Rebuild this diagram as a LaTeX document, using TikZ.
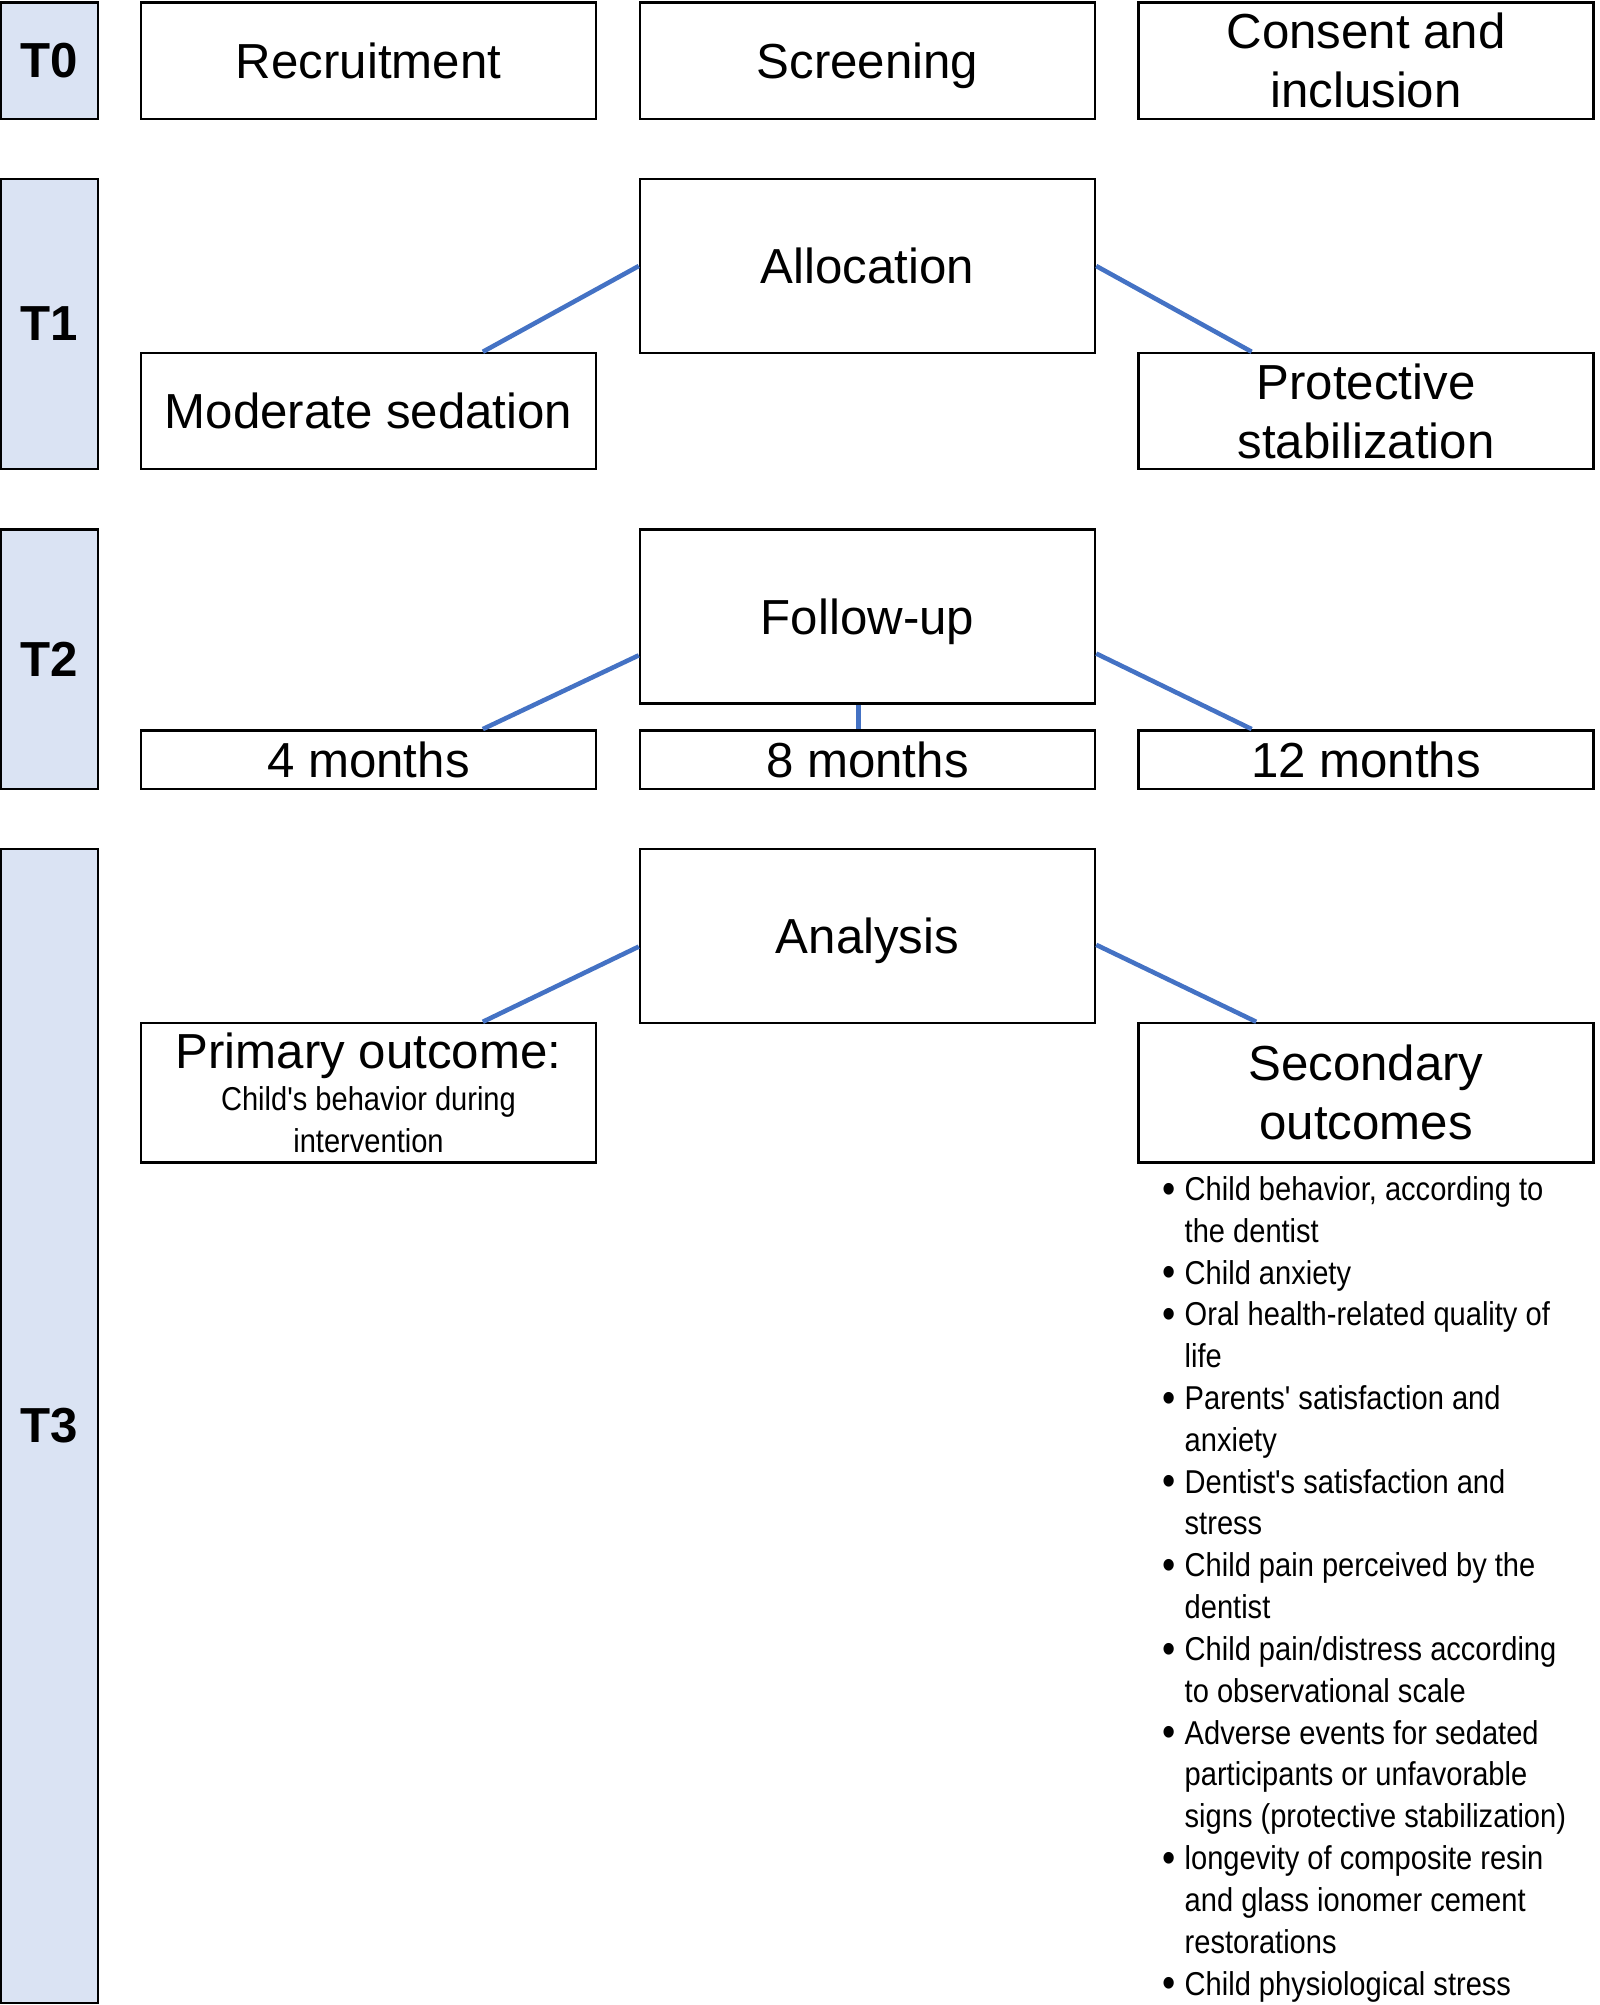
\documentclass[tikz,border=0pt]{standalone}
\usepackage{fontspec}
\setmainfont{Liberation Sans}
\newfontfamily\narrowfont[FakeStretch=0.88]{Liberation Sans}
\usetikzlibrary{calc}
\definecolor{tfill}{RGB}{218,227,243}
\definecolor{linkblue}{RGB}{68,114,196}
\newcommand{\bitem}{\makebox[0.22cm][l]{\raisebox{-0.8pt}{\scalebox{1.3}{\textbullet}}}}
\newcommand{\bpad}{\hspace*{0.22cm}}
\newcommand{\smalltxt}{\narrowfont\fontsize{9.4}{11.9}\selectfont}

\begin{document}
\begin{tikzpicture}[
	box/.style={draw,line width=0.7pt,inner sep=0pt,minimum width=4.55cm,align=center,font=\fontsize{14}{16.8}\selectfont},
	onebox/.style={box,text depth=0pt},
	tbox/.style={draw,line width=0.7pt,fill=tfill,inner sep=0pt,minimum width=0.97cm,font=\fontsize{14}{16.8}\selectfont\bfseries},
	link/.style={draw=linkblue,line width=1.3pt}]
		\useasboundingbox (0,0) rectangle (16,-20.05);
		\node[tbox,minimum height=1.165cm] (t0) at (0.495,-0.6075) {T0};
		\node[onebox,minimum height=1.165cm] (recr) at (3.685,-0.6075) {Recruitment};
		\node[onebox,minimum height=1.165cm] (scr) at (8.675,-0.6075) {Screening};
		\node[box,minimum height=1.165cm] (cons) at (13.66,-0.6075) {Consent and\\inclusion};
		\node[tbox,minimum height=2.90cm] (t1) at (0.495,-3.24) {T1};
		\node[onebox,minimum height=1.74cm] (alloc) at (8.675,-2.66) {Allocation};
		\node[onebox,minimum height=1.16cm] (mod) at (3.685,-4.11) {Moderate sedation};
		\node[box,minimum height=1.16cm] (prot) at (13.66,-4.11) {Protective\\stabilization};
		\node[tbox,minimum height=2.595cm] (t2) at (0.495,-6.5925) {T2};
		\node[onebox,minimum height=1.74cm] (fup) at (8.675,-6.165) {Follow-up};
		\node[onebox,minimum height=0.587cm] (m4) at (3.685,-7.5965) {4 months};
		\node[onebox,minimum height=0.587cm] (m8) at (8.675,-7.5965) {8 months};
		\node[onebox,minimum height=0.587cm] (m12) at (13.66,-7.5965) {12 months};
		\node[tbox,minimum height=11.54cm] (t3) at (0.495,-14.26) {T3};
		\node[onebox,minimum height=1.74cm] (ana) at (8.675,-9.36) {Analysis};
		\node[box,minimum height=1.396cm,font=\fontsize{14}{11.9}\selectfont] (prim) at (3.685,-10.928) {Primary outcome:\\\smalltxt Child's behavior during\\\smalltxt intervention};
		\node[box,minimum height=1.396cm] (sec) at (13.66,-10.928) {Secondary\\outcomes};
		\node[anchor=base west,inner sep=0pt,align=left,font=\smalltxt] (seclist) at (11.62,-19.95) {\bitem Child behavior, according to\\\bpad the dentist\\\bitem Child anxiety\\\bitem Oral health-related quality of\\\bpad life\\\bitem Parents' satisfaction and\\\bpad anxiety\\\bitem Dentist's satisfaction and\\\bpad stress\\\bitem Child pain perceived by the\\\bpad dentist\\\bitem Child pain/distress according\\\bpad to observational scale\\\bitem Adverse events for sedated\\\bpad participants or unfavorable\\\bpad signs (protective stabilization)\\\bitem longevity of composite resin\\\bpad and glass ionomer cement\\\bpad restorations\\\bitem Child physiological stress};
		\draw[link] (alloc.west) -- ($(mod.north)!0.5!(mod.north east)$);
		\draw[link] (alloc.east) -- ($(prot.north)!0.5!(prot.north west)$);
		\draw[link] ($(fup.west)!0.44!(fup.south west)$) -- ($(m4.north)!0.5!(m4.north east)$);
		\draw[link] ([xshift=-0.09cm]fup.south) -- ([xshift=-0.09cm]m8.north);
		\draw[link] ($(fup.east)!0.42!(fup.south east)$) -- ($(m12.north)!0.5!(m12.north west)$);
		\draw[link] ($(ana.west)!0.12!(ana.south west)$) -- ($(prim.north)!0.5!(prim.north east)$);
		\draw[link] ($(ana.east)!0.1!(ana.south east)$) -- ($(sec.north)!0.48!(sec.north west)$);
	\end{tikzpicture}
\end{document}
